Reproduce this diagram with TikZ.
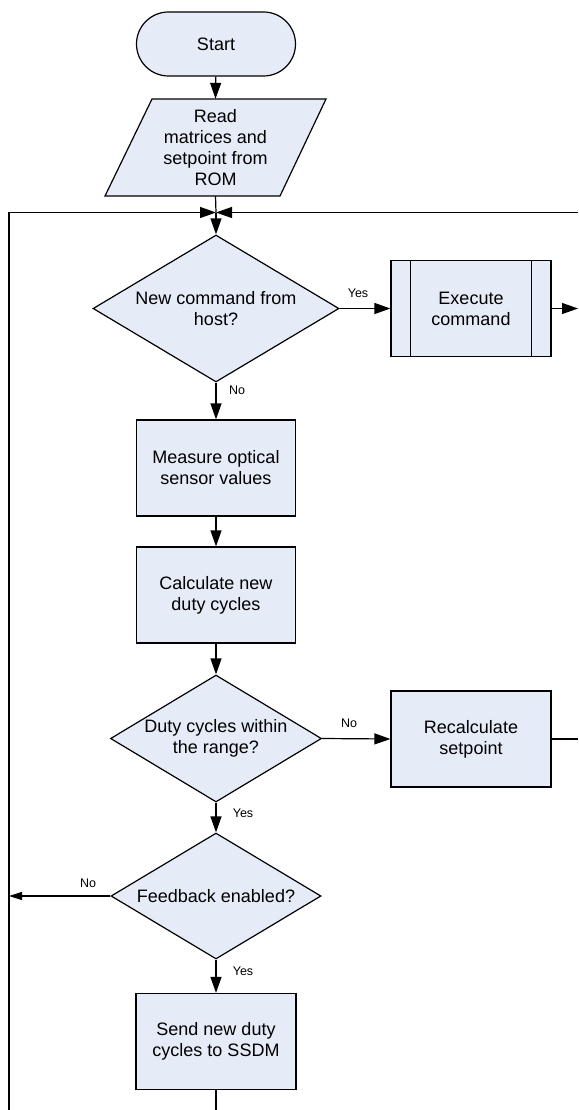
\documentclass[tikz,border=0pt]{standalone}
\usepackage{fontspec}
\setmainfont{Liberation Sans}
\usetikzlibrary{shapes.geometric,shapes.misc,arrows.meta,calc}
\definecolor{boxfill}{RGB}{230,236,247}
\begin{document}
\begin{tikzpicture}[x=1pt,y=-1pt,
  every node/.style={font=\fontsize{18}{21}\selectfont},
  lw/.style={line width=1.2pt},
  box/.style={draw, lw, fill=boxfill, minimum width=160pt, minimum height=96pt, align=center, inner sep=0pt},
  term/.style={draw, lw, fill=boxfill, rounded rectangle, minimum width=159pt, minimum height=64pt, inner sep=0pt},
  dia/.style={draw, lw, fill=boxfill, diamond, inner sep=0pt},
  dtext/.style={align=center},
  arr/.style={lw, -{Triangle[length=16pt,width=11pt]}},
  arrs/.style={lw, -{Triangle[length=13pt,width=8pt]}},
  conn/.style={lw},
  lbl/.style={font=\fontsize{12.5}{14}\selectfont, inner sep=0pt}
]
\useasboundingbox (0,0) rectangle (578,1110);

% Start
\node[term] (start) at (216,44) {Start};

% Parallelogram (input)
\filldraw[lw, fill=boxfill] (152,99) -- (326,99) -- (280,196) -- (105,196) -- cycle;
\node[align=center, minimum width=175pt, minimum height=97pt, inner sep=0pt] (read) at (215.5,147.5) {Read\\matrices and\\setpoint from\\ROM};

% merge point and frame coordinates
\coordinate (m) at (216,212.5);
\coordinate (lb) at (9,1110);
\coordinate (rt) at (578,212.5);

% Decision 1
\node[dia, minimum width=246pt, minimum height=147pt] (d1) at (216,308.5) {};
\node[dtext] (d1t) at (d1.center) {New command from\\host?};

% Execute command (predefined process)
\node[box] (ex) at (471,308.5) {Execute\\command};
\draw[lw] ($(ex.north west)+(20,0)$) -- ($(ex.south west)+(20,0)$);
\draw[lw] ($(ex.north east)+(-20,0)$) -- ($(ex.south east)+(-20,0)$);
\coordinate (exr) at (578,308.5);

% Process boxes
\node[box, minimum width=159pt] (meas) at (216,468) {Measure optical\\sensor values};
\node[box, minimum width=159pt] (calc) at (216,595) {Calculate new\\duty cycles};

% Decision 2
\node[dia, minimum width=211pt, minimum height=127pt] (d2) at (216,738.5) {};
\node[dtext] (d2t) at (d2.center) {Duty cycles within\\the range?};

\node[box] (rec) at (471,739) {Recalculate\\setpoint};
\coordinate (recr) at (578,739);

% Decision 3
\node[dia, minimum width=210pt, minimum height=126pt] (d3) at (216,896) {};
\node[dtext] (d3t) at (d3.center) {Feedback enabled?};
\coordinate (fbl) at (9,896);

% Send
\node[box] (send) at (216,1041.5) {Send new duty\\cycles to SSDM};
\coordinate (sendb) at (216,1110);

% Connectors
\draw[arr] (start) -- (read.north);
\draw[conn] (read.south) -- (m);
\draw[arr] (lb) |- (m);
\draw[arr] (rt) -- (m);
\draw[arr] (m) -- (d1.north);
\draw[arr] (d1.east) -- (ex.west);
\draw[arr] (ex.east) -- (exr);
\draw[arr] (d1.south) -- (meas.north);
\draw[arr] (meas) -- (calc);
\draw[arr] (calc) -- (d2.north);
\draw[arr] (d2.east) -- (rec.west);
\draw[conn] (rec.east) -- (recr);
\draw[arr] (d2.south) -- (d3.north);
\draw[arrs] (d3.west) -- (fbl);
\draw[arr] (d3.south) -- (send.north);
\draw[conn] (send.south) -- (sendb);

% Labels
\node[lbl] (l1) at (358,293) {Yes};
\node[lbl] (l2) at (237,390) {No};
\node[lbl] (l3) at (349,723) {No};
\node[lbl] (l4) at (243,813) {Yes};
\node[lbl] (l5) at (88,883) {No};
\node[lbl] (l6) at (243,971) {Yes};
\end{tikzpicture}
\end{document}
